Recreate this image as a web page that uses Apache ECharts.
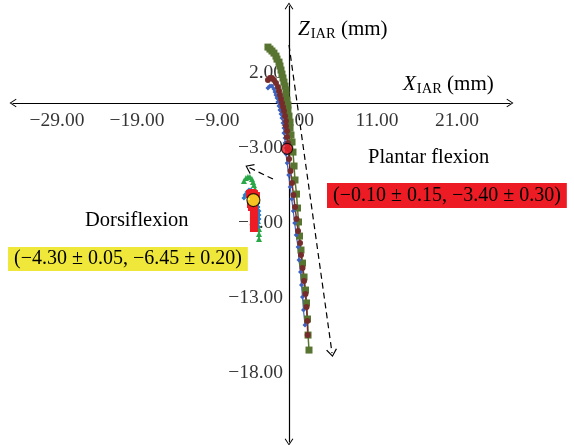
<!DOCTYPE html>
<html><head><meta charset="utf-8">
<script src="https://cdn.jsdelivr.net/npm/echarts@6/dist/echarts.min.js"></script>
<style>html,body{margin:0;padding:0;background:#fff}#c{width:574px;height:445px}</style>
</head><body><div id="c"></div>
<script>
const xTicks = [-29, -19, -9, 1, 11, 21];
const yTicks = [2, -3, -8, -13, -18];

const plantarGreen = [[-2.63,3.73],[-2.38,3.6],[-2.13,3.47],[-1.88,3.33],[-1.63,3.13],[-1.5,2.93],[-1.25,2.73],[-1.13,2.47],[-1.0,2.2],[-0.88,1.93],[-0.75,1.67],[-0.63,1.4],[-0.5,1.13],[-0.38,0.87],[-0.38,0.53],[-0.25,0.2],[-0.13,-0.13],[-0.13,-0.47],[0,-0.87],[0.13,-1.27],[0.13,-1.67],[0.25,-2.13],[0.38,-2.6],[0.5,-3.27],[0.63,-4.2],[0.75,-5.13],[0.94,-6.07],[1.06,-7.0],[1.19,-7.93],[1.31,-8.87],[1.5,-9.8],[1.69,-10.67],[1.88,-11.6],[2.06,-12.47],[2.19,-13.33],[2.31,-14.4],[2.38,-15.47],[2.5,-16.47]];
const plantarBlue = [[-2.63,1.0],[-2.38,1.13],[-2.13,1.13],[-1.88,0.93],[-1.75,0.73],[-1.63,0.53],[-1.5,0.33],[-1.38,0.07],[-1.25,-0.2],[-1.13,-0.47],[-1.0,-0.73],[-0.88,-1.0],[-0.75,-1.33],[-0.63,-1.67],[-0.63,-2.0],[-0.5,-2.33],[-0.5,-2.67],[-0.38,-3.0],[-0.38,-3.4],[-0.23,-4.0],[-0.04,-4.8],[0.15,-5.6],[0.34,-6.4],[0.53,-7.2],[0.71,-8.0],[0.9,-8.8],[1.13,-9.6],[1.25,-10.47],[1.44,-11.27],[1.56,-12.13],[1.69,-12.93],[1.81,-13.8],[2.0,-14.8]];
const plantarMaroon = [[-2.63,1.53],[-2.38,1.67],[-2.13,1.67],[-1.88,1.53],[-1.63,1.33],[-1.38,1.07],[-1.25,0.8],[-1.13,0.53],[-1.0,0.27],[-0.88,0],[-0.75,-0.27],[-0.63,-0.53],[-0.5,-0.87],[-0.38,-1.2],[-0.38,-1.53],[-0.25,-1.87],[-0.25,-2.27],[-0.13,-2.67],[-0.13,-3.07],[0,-3.73],[0.19,-4.53],[0.38,-5.33],[0.56,-6.13],[0.75,-6.93],[0.94,-7.73],[1.13,-8.53],[1.38,-9.33],[1.5,-10.13],[1.69,-11.0],[1.88,-11.87],[2.06,-12.73],[2.19,-13.6],[2.29,-14.53],[2.34,-15.47]];

const dorsiGreen = [[-5.63,-5.2],[-5.38,-5.0],[-5.13,-4.93],[-4.88,-4.93],[-4.63,-5.07],[-4.5,-5.27],[-4.38,-5.47],[-4.25,-5.73],[-4.13,-6.0],[-4.13,-6.27],[-4.0,-6.53],[-4.0,-6.8],[-4.0,-7.07],[-3.88,-7.33],[-3.88,-7.6],[-3.88,-7.87],[-3.88,-8.13],[-3.75,-8.4],[-3.75,-8.73],[-3.75,-9.07]];
const dorsiBlue = [[-5.63,-6.33],[-5.5,-6.13],[-5.25,-5.93],[-5.0,-5.8],[-4.75,-5.8],[-4.5,-5.93],[-4.25,-6.13],[-4.0,-6.4],[-3.88,-6.67],[-3.88,-6.93],[-3.75,-7.2],[-3.75,-7.47],[-3.75,-7.73],[-3.88,-8.0],[-3.88,-8.27]];
const dorsiRed = [[-4.88,-6.07],[-4.63,-6.0],[-4.38,-6.07],[-4.13,-6.2],[-4.25,-6.4],[-4.38,-6.6],[-4.75,-6.73],[-4.63,-6.93],[-4.38,-7.07],[-4.38,-7.33],[-4.38,-7.6],[-4.38,-7.87],[-4.38,-8.13],[-4.38,-8.33]];

const plantarCenter = [[-0.25, -3.05]];
const dorsiCenter = [[-4.45, -6.47]];
const plantarArrow = [[0, 3.87], [5.38, -16.67]];
const dorsiArrow = [[-2.0, -5.07], [-5.0, -4.3]];

const plantarLabel = '(\u22120.10 \u00b1 0.15, \u22123.40 \u00b1 0.30)';
const dorsiLabel = '(\u22124.30 \u00b1 0.05, \u22126.45 \u00b1 0.20)';

const SERIF = '"Liberation Serif", "DejaVu Serif", serif';
const chevron = 'path://M0,9 L6,0 L12,9 L10.8,9.7 L6,2.2 L1.2,9.7 Z';
const fmt = v => (v < 0 ? '\u2212' : '') + Math.abs(v).toFixed(2);

const chart = echarts.init(document.getElementById('c'), null, {renderer: 'canvas'});

function lineSeries(data, color, symbol, size, lw) {
  return {
    type: 'line', data: data, symbol: symbol, symbolSize: size,
    lineStyle: {color: color, width: lw},
    itemStyle: {color: color},
    silent: true, z: 3
  };
}

const axisLine = {
  onZero: true,
  lineStyle: {color: '#000', width: 1.2},
  symbol: [chevron, chevron],
  symbolSize: [11, 7]
};

const tickLabelStyle = {show: true, fontFamily: SERIF, fontSize: 19.5, color: '#000'};

chart.setOption({
  animation: false,
  grid: {left: 13, right: 64, top: 6, bottom: 3, containLabel: false, outerBoundsMode: 'none'},
  xAxis: {
    type: 'value', min: -34.5, max: 27.625,
    axisLine: axisLine,
    axisTick: {show: false},
    splitLine: {show: false},
    axisLabel: {show: false}
  },
  yAxis: {
    type: 'value', min: -22.6, max: 6.47,
    axisLine: axisLine,
    axisTick: {show: false},
    splitLine: {show: false},
    axisLabel: {show: false}
  },
  series: [
    {type: 'scatter', data: xTicks.map(t => [t, 0]), symbolSize: 0, silent: true, z: 1,
     label: Object.assign({position: 'bottom', distance: 8, formatter: p => fmt(p.value[0])}, tickLabelStyle)},
    {type: 'scatter', data: yTicks.map(t => [0, t]), symbolSize: 0, silent: true, z: 1,
     label: Object.assign({position: 'left', distance: 6, formatter: p => fmt(p.value[1])}, tickLabelStyle)},
    Object.assign(lineSeries(plantarGreen, '#587431', 'rect', 7, 1.5), {
      markLine: {
        silent: true, symbol: ['none', chevron], symbolSize: [11, 8],
        lineStyle: {color: '#000', width: 1.2, type: [6, 4]},
        label: {show: false},
        data: [
          [{coord: plantarArrow[0]}, {coord: plantarArrow[1]}],
          [{coord: dorsiArrow[0]}, {coord: dorsiArrow[1]}]
        ]
      }
    }),
    lineSeries(plantarBlue, '#3d62c0', 'diamond', 5, 1.2),
    lineSeries(plantarMaroon, '#772c2c', 'circle', 6, 1.5),
    lineSeries(dorsiGreen, '#2aa748', 'triangle', 6, 1.5),
    lineSeries(dorsiBlue, '#2e7bc4', 'diamond', 5, 1.2),
    lineSeries(dorsiRed, '#ee1c25', 'rect', 8, 2),
    {type: 'scatter', data: plantarCenter, symbol: 'circle', symbolSize: 11, z: 5, silent: true,
     itemStyle: {color: '#ee1c25', borderColor: '#000', borderWidth: 1.2}},
    {type: 'scatter', data: dorsiCenter, symbol: 'circle', symbolSize: 13, z: 5, silent: true,
     itemStyle: {color: '#f7ee22', borderColor: '#000', borderWidth: 1.2}}
  ],
  graphic: [
    {type: 'text', left: 298, top: 19, z: 10, style: {
      text: '{i|Z}{s|IAR}{n| (mm)}', fill: '#000',
      rich: {
        i: {fontFamily: SERIF, fontStyle: 'italic', fontSize: 21, fill: '#000'},
        s: {fontFamily: SERIF, fontSize: 14.5, fill: '#000', padding: [10, 0, 0, 1]},
        n: {fontFamily: SERIF, fontSize: 21, fill: '#000'}
      }}},
    {type: 'text', left: 403, top: 74, z: 10, style: {
      text: '{i|X}{s|IAR}{n| (mm)}', fill: '#000',
      rich: {
        i: {fontFamily: SERIF, fontStyle: 'italic', fontSize: 21, fill: '#000'},
        s: {fontFamily: SERIF, fontSize: 14.5, fill: '#000', padding: [10, 0, 0, 1]},
        n: {fontFamily: SERIF, fontSize: 21, fill: '#000'}
      }}},
    {type: 'text', left: 368, top: 147, z: 10, style: {
      text: 'Plantar flexion', font: '20.5px ' + SERIF, fill: '#000'}},
    {type: 'text', left: 327, top: 183, z: 10, style: {
      text: plantarLabel, font: '20px ' + SERIF, fill: '#000',
      backgroundColor: '#ed1c24', padding: [2, 6, 1, 6], lineHeight: 22}},
    {type: 'text', left: 85, top: 210, z: 10, style: {
      text: 'Dorsiflexion', font: '20.5px ' + SERIF, fill: '#000'}},
    {type: 'text', left: 8, top: 247, z: 10, style: {
      text: dorsiLabel, font: '20px ' + SERIF, fill: '#000',
      backgroundColor: '#efe83a', padding: [1, 6, 1, 6], lineHeight: 22}}
  ]
});
</script>
</body></html>
